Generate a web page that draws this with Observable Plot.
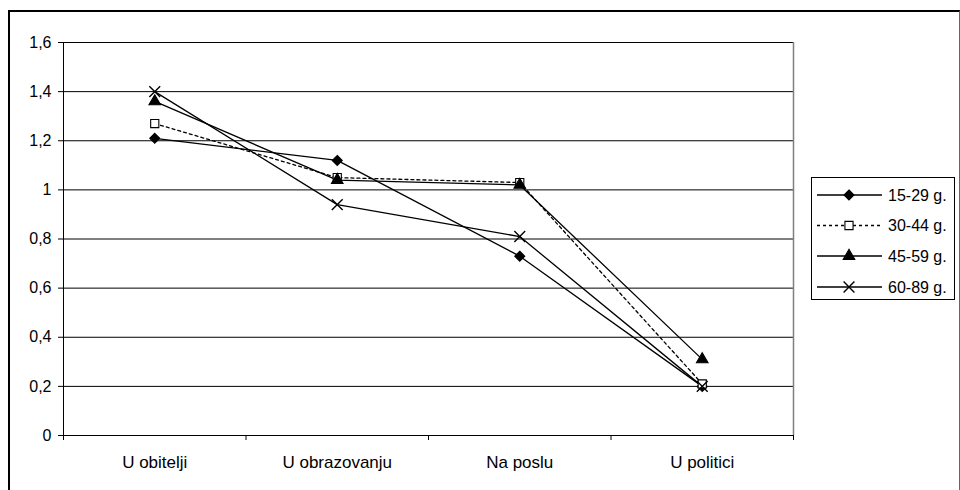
<!DOCTYPE html>
<html>
<head>
<meta charset="utf-8">
<script src="https://cdn.jsdelivr.net/npm/d3@7"></script>
<script src="https://cdn.jsdelivr.net/npm/@observablehq/plot@0.6"></script>
<style>
  html, body { margin: 0; padding: 0; background: #fff; width: 960px; height: 490px; overflow: hidden; }
  #frame { position: absolute; left: 8px; top: 10px; width: 949px; height: 490px;
           border-top: 2px solid #000; border-left: 2px solid #000; border-right: 1px solid #666; }
  #chart { position: absolute; left: 0; top: 0; }
  #legend { position: absolute; left: 811px; top: 177px; width: 142px; height: 121px;
            border: 1px solid #000; background: #fff; font-family: "Liberation Sans", Arial, sans-serif; font-size: 16px; }
</style>
</head>
<body>
<div id="frame"></div>
<div id="chart"></div>
<div id="legend"></div>
<script>
const categories = ["U obitelji", "U obrazovanju", "Na poslu", "U politici"];
const seriesNames = ["15-29 g.", "30-44 g.", "45-59 g.", "60-89 g."];
const v15_29 = [1.21, 1.12, 0.73, 0.20];
const v30_44 = [1.27, 1.05, 1.03, 0.21];
const v45_59 = [1.36, 1.04, 1.02, 0.31];
const v60_89 = [1.40, 0.94, 0.81, 0.20];
const yTicks = [0, 0.2, 0.4, 0.6, 0.8, 1.0, 1.2, 1.4, 1.6];

const seriesValues = [v15_29, v30_44, v45_59, v60_89];
const styles = [
  { symbol: "diamond2", fill: "#000", stroke: "#000", r: 4.5, dash: null },
  { symbol: "square", fill: "#fff", stroke: "#000", r: 4.6, dash: "3,3" },
  { symbol: "triangle", fill: "#000", stroke: "#000", r: 4.3, dash: null },
  { symbol: "times", fill: "none", stroke: "#000", r: 5.0, dash: null }
];

const data = [];
seriesNames.forEach((s, si) => seriesValues[si].forEach((v, ci) => data.push({ series: s, si, ci, value: v })));

const fmt = v => String(+v.toFixed(1)).replace(".", ",");

const marks = [
  Plot.ruleY(yTicks.filter(t => t > 0), { stroke: "#000", strokeWidth: 1 }),
  Plot.ruleX([categories.length - 0.5], { y1: 0, y2: 1.6, stroke: "#808080", strokeWidth: 1.5 }),
  Plot.ruleY([0], { stroke: "#000", strokeWidth: 1.2 }),
  Plot.ruleX([-0.5], { y1: 0, y2: 1.6, stroke: "#000", strokeWidth: 1 }),
  Plot.axisY({ ticks: yTicks, tickFormat: fmt, tickSize: 5, tickPadding: 7, fontSize: 16, label: null }),
  Plot.axisX({ ticks: d3.range(categories.length + 1).map(i => i - 0.5), tickFormat: () => "", tickSize: 5, label: null }),
  Plot.axisX({ ticks: d3.range(categories.length), tickFormat: i => categories[i], tickSize: 0, tickPadding: 20, fontSize: 17, label: null })
];
seriesNames.forEach((s, si) => {
  const d = data.filter(p => p.si === si);
  marks.push(Plot.line(d, { x: "ci", y: "value", stroke: "#000", strokeWidth: 1.3, strokeDasharray: styles[si].dash || undefined }));
});
seriesNames.forEach((s, si) => {
  const d = data.filter(p => p.si === si);
  const st = styles[si];
  marks.push(Plot.dot(d, { x: "ci", y: "value", symbol: () => st.symbol, r: st.r, fill: st.fill, stroke: st.stroke, strokeWidth: si === 3 ? 1.4 : 1.1 }));
});

const chart = Plot.plot({
  width: 960,
  height: 490,
  marginLeft: 63,
  marginRight: 167,
  marginTop: 42,
  marginBottom: 55,
  x: { type: "linear", domain: [-0.5, categories.length - 0.5], axis: null },
  y: { domain: [0, 1.6], axis: null },
  symbol: { type: "identity" },
  style: { fontFamily: "Liberation Sans, Arial, sans-serif", fontSize: "16px", color: "#000", background: "transparent", overflow: "visible" },
  marks
});
document.getElementById("chart").appendChild(chart);

// Legend
const leg = d3.select("#legend");
const symMap = { diamond2: d3.symbolDiamond2, square: d3.symbolSquare, triangle: d3.symbolTriangle, times: d3.symbolTimes };
const rowY = [18, 48.5, 79, 110];
const svg = leg.append("svg").attr("width", 142).attr("height", 121).style("position", "absolute").style("left", 0).style("top", 0);
seriesNames.forEach((s, si) => {
  const st = styles[si];
  const y = rowY[si] - 1;
  svg.append("line").attr("x1", 5).attr("x2", 70).attr("y1", y).attr("y2", y)
    .attr("stroke", "#000").attr("stroke-width", 1.3).attr("stroke-dasharray", st.dash);
  svg.append("path").attr("transform", `translate(37,${y})`)
    .attr("d", d3.symbol(symMap[st.symbol], Math.PI * st.r * st.r)())
    .attr("fill", st.fill).attr("stroke", st.stroke).attr("stroke-width", si === 3 ? 1.4 : 1.1);
  svg.append("text").attr("x", 76).attr("y", y).attr("dy", "0.35em")
    .attr("font-family", "Liberation Sans, Arial, sans-serif").attr("font-size", 16).text(s);
});
</script>
</body>
</html>
